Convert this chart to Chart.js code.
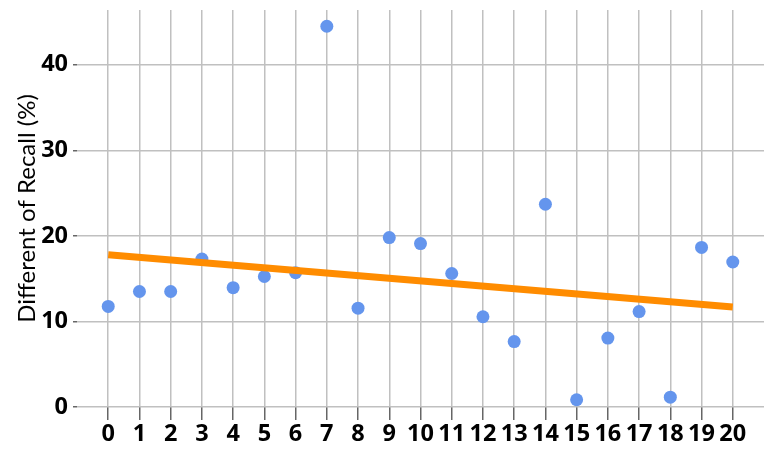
<!DOCTYPE html>
<html>
<head>
<meta charset="utf-8">
<script src="https://cdn.jsdelivr.net/npm/chart.js@4/dist/chart.umd.min.js"></script>
<style>
  html, body { margin: 0; padding: 0; background: #fff; }
  #wrap { width: 772px; height: 464px; }
</style>
</head>
<body>
<div id="wrap"><canvas id="myChart"></canvas></div>
<script>
const xValues = [0, 1, 2, 3, 4, 5, 6, 7, 8, 9, 10, 11, 12, 13, 14, 15, 16, 17, 18, 19, 20];
const recallDiff = [11.75, 13.5, 13.5, 17.3, 13.95, 15.25, 15.7, 44.5, 11.55, 19.8, 19.1,
                    15.6, 10.55, 7.65, 23.7, 0.85, 8.05, 11.15, 1.15, 18.65, 16.95];
const trendX = [0, 20];
const trendY = [17.8, 11.7];
const xTicks = xValues;
const yTicks = [0, 10, 20, 30, 40];

document.addEventListener("DOMContentLoaded", function () {
    const tickFont = { family: '"Open Sans", "Noto Sans", sans-serif', size: 23.5, weight: 'bold' };

    const data = {
        datasets: [{
            type: 'line',
            label: 'Trend',
            data: trendX.map((x, i) => ({ x: x, y: trendY[i] })),
            borderColor: '#ff8c00',
            borderWidth: 7,
            borderCapStyle: 'butt',
            pointRadius: 0,
            order: 0,
        }, {
            type: 'scatter',
            label: 'Different of Recall',
            data: xValues.map((x, i) => ({ x: x, y: recallDiff[i] })),
            backgroundColor: '#6495ed',
            borderWidth: 0,
            pointRadius: 6.5,
            order: 1,
        }]
    }

    const config = {
        type: 'scatter',
        data: data,
        options: {
            responsive: true,
            maintainAspectRatio: false,
            animation: false,
            layout: { padding: { top: 10, right: 8, left: 0, bottom: 0 } },
            plugins: {
                legend: { display: false },
                tooltip: { enabled: false },
            },
            scales: {
                x: {
                    type: 'linear',
                    min: -1,
                    max: 21,
                    afterBuildTicks: function (scale) {
                        scale.ticks = xTicks.map(v => ({ value: v }));
                    },
                    afterFit: function (scale) {
                        scale.height = 57;
                        scale.paddingLeft = 0;
                        scale.paddingRight = 0;
                    },
                    border: { display: false },
                    grid: { color: '#c0c0c0', tickColor: '#666', tickLength: 13, lineWidth: 1.5 },
                    ticks: { color: '#000', font: tickFont, padding: 0, maxRotation: 0, autoSkip: false },
                },
                y: {
                    min: 0,
                    max: 46.4,
                    afterBuildTicks: function (scale) {
                        scale.ticks = yTicks.map(v => ({ value: v }));
                    },
                    afterFit: function (scale) {
                        scale.width = 77;
                        scale.paddingTop = 0;
                        scale.paddingBottom = 0;
                    },
                    border: { display: false },
                    grid: { color: '#c0c0c0', tickColor: '#666', tickLength: 4, lineWidth: 1.5 },
                    ticks: { color: '#000', font: tickFont, padding: 5 },
                    title: {
                        display: true,
                        text: 'Different of Recall (%)',
                        color: '#000',
                        font: { family: 'Lato, "Open Sans", sans-serif', size: 24 },
                        padding: { top: 12.5, bottom: 0 },
                    },
                },
            },
        },
    }

    new Chart(document.getElementById('myChart'), config);
})
</script>
</body>
</html>
